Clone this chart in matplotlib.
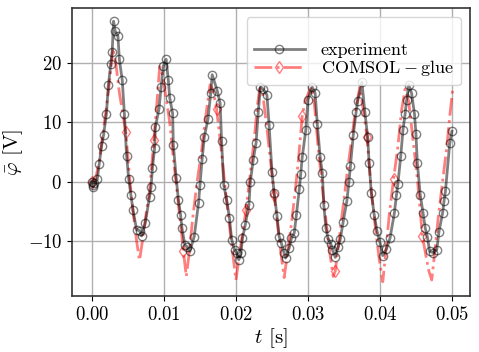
import numpy as np
import matplotlib
matplotlib.use("Agg")
import matplotlib.pyplot as plt

plt.rcParams['font.family'] = 'serif'
plt.rcParams['font.serif'] = ['cmr10']
plt.rcParams['mathtext.fontset'] = 'cm'
plt.rcParams['axes.formatter.use_mathtext'] = True

# experiment
t_exp = [0.0000, 0.0001, 0.0002, 0.0003, 0.00074, 0.0010, 0.00134, 0.0016, 0.0020, 0.00227, 0.0026,
         0.0028, 0.0030, 0.0032, 0.0036, 0.0038, 0.0042, 0.0045, 0.0048, 0.0051, 0.0054, 0.0057,
         0.0062, 0.0066, 0.0069, 0.0074, 0.0080, 0.0082, 0.0084, 0.0087, 0.0088, 0.0093,
         0.0096, 0.0099, 0.0103, 0.0106, 0.0108, 0.0112, 0.0113, 0.0117, 0.0120, 0.0123,
         0.0125, 0.0129, 0.0132, 0.0136, 0.0142, 0.0148, 0.0150, 0.0153, 0.0156, 0.0161,
         0.0165, 0.0167, 0.0174, 0.0178, 0.0180, 0.0183, 0.0187, 0.0191, 0.0194, 0.0198,
         0.0201, 0.0204, 0.0207, 0.0209, 0.0213, 0.0218, 0.0220, 0.0224, 0.0228, 0.0231,
         0.0234, 0.0238, 0.0243, 0.0246, 0.0250, 0.0253, 0.0257, 0.0260, 0.0263, 0.0267,
         0.0269, 0.0274, 0.0277, 0.0281, 0.0284, 0.0288, 0.0290, 0.0292, 0.0297, 0.0300,
         0.0306, 0.0310, 0.0313, 0.0317, 0.0320, 0.0322, 0.0325, 0.0328, 0.0332, 0.0334,
         0.0338, 0.0342, 0.0345, 0.0349, 0.0354, 0.0357, 0.0359, 0.0363, 0.0367, 0.0369,
         0.0375, 0.0379, 0.0383, 0.0385, 0.0388, 0.0392, 0.0396, 0.0400, 0.0404, 0.0409,
         0.0414, 0.0420, 0.0423, 0.0425, 0.0429, 0.0432, 0.0435, 0.0437, 0.0440, 0.0444,
         0.0448, 0.0450, 0.0452, 0.0456, 0.0460, 0.0463, 0.0466, 0.0469, 0.0474, 0.0479,
         0.0482, 0.0487, 0.0489, 0.0491, 0.0497, 0.0500]
v_exp = [0.0, -0.5, -0.8, -0.2, 0.45, 3.0, 6.1, 7.8, 11.4, 16.2, 19.8,
         21.9, 27.0, 25.4, 24.5, 20.6, 17.1, 11.4, 4.4, 0.45, -2.2, -4.8,
         -8.1, -8.2, -9.1, -6.9, -2.5, -0.9, 2.3, 5.7, 9.2, 12.2,
         15.9, 19.4, 20.6, 17.1, 14.1, 11.5, 6.2, 0.6, -3.0, -5.5,
         -7.8, -10.6, -10.9, -11.7, -9.2, -3.6, -0.5, 3.8, 7.5, 10.5,
         14.9, 18.0, 15.3, 13.2, 6.9, -0.5, -3.0, -6.1, -9.7, -11.4,
         -12.0, -13.1, -12.0, -9.5, -7.2, -3.9, 0.05, 3.7, 6.6, 11.8,
         15.9, 15.6, 14.6, 9.6, 1.7, -1.8, -5.7, -9.2, -10.3, -12.0,
         -12.8, -11.1, -9.5, -8.6, -5.5, -1.2, 1.3, 4.1, 8.7, 13.8,
         15.9, 14.9, 9.7, 4.1, 1.5, -3.9, -7.8, -9.6, -10.5, -11.4,
         -12.7, -10.9, -9.6, -6.7, -3.3, 0.05, 2.6, 7.9, 11.8, 13.5,
         16.7, 11.8, 7.5, 3.1, -1.8, -5.5, -8.3, -10.2, -12.4, -11.3,
         -9.5, -5.3, -2.2, -0.3, 4.4, 8.7, 11.4, 13.7, 16.3, 14.9,
         11.4, 8.1, 3.1, -2.2, -5.3, -7.8, -9.3, -11.7, -11.9, -11.4,
         -8.4, -5.3, -3.3, -1.6, 6.5, 8.5]

# COMSOL - glue
t_sim = [0.0000, 0.0005, 0.0010, 0.0015, 0.0020, 0.0025, 0.0029, 0.0033, 0.0038, 0.0042, 0.0047,
         0.0052, 0.0057, 0.0062, 0.0066, 0.0070, 0.0075, 0.0080, 0.0086, 0.0090, 0.0094,
         0.0098, 0.0103, 0.0108, 0.0113, 0.0118, 0.0123, 0.0127, 0.0131, 0.0135, 0.0140,
         0.0146, 0.0152, 0.0158, 0.0164, 0.0168, 0.0173, 0.0179, 0.0185, 0.0191, 0.0196,
         0.0200, 0.0205, 0.0214, 0.0220, 0.0226, 0.0230, 0.0233, 0.0237, 0.0243, 0.0248,
         0.0253, 0.0258, 0.0263, 0.0267, 0.0271, 0.0276, 0.0282, 0.0287, 0.0292, 0.0296,
         0.0301, 0.0305, 0.0309, 0.0314, 0.0320, 0.0326, 0.0331, 0.0335, 0.0338, 0.0342,
         0.0348, 0.0354, 0.0360, 0.0366, 0.0372, 0.0377, 0.0382, 0.0388, 0.0394, 0.0399,
         0.0404, 0.0408, 0.0413, 0.0419, 0.0425, 0.0430, 0.0435, 0.0440, 0.0446, 0.0452,
         0.0459, 0.0464, 0.0468, 0.0472, 0.0476, 0.0481, 0.0487, 0.0493, 0.0497, 0.0501]
v_sim = [0.0, 0.5, 3.5, 8.0, 12.5, 17.5, 22.5, 20.0, 15.0, 12.0, 8.3,
         1.0, -5.0, -10.0, -13.2, -10.0, -5.5, -1.5, 7.1, 13.0, 19.4,
         18.0, 14.0, 10.0, 4.0, -1.5, -7.0, -11.7, -15.9, -12.0, -6.0,
         0.0, 5.0, 11.0, 16.3, 15.5, 12.3, 6.0, -1.0, -7.5, -12.5,
         -16.5, -12.0, -4.7, 1.5, 8.0, 13.0, 15.7, 15.0, 9.0, 3.5,
         -2.2, -7.5, -12.5, -16.1, -12.5, -8.0, -2.0, 4.0, 11.0, 13.5,
         15.0, 15.9, 13.0, 6.0, -1.0, -7.5, -12.5, -15.9, -15.0, -11.0,
         -5.0, 1.0, 6.5, 12.0, 15.9, 12.0, 7.6, -1.5, -8.0, -13.0,
         -16.8, -12.0, -5.5, 0.5, 6.0, 12.0, 15.6, 13.5, 7.0, 0.5,
         -9.1, -12.5, -15.0, -16.5, -12.0, -6.0, 0.0, 6.0, 11.0, 15.5]
sim_marker_t = [0.0000, 0.0047, 0.0086, 0.0127, 0.0173, 0.0214, 0.0253, 0.0292, 0.0338,
                0.0382, 0.0419, 0.0459]

x_ticks = [0.00, 0.01, 0.02, 0.03, 0.04, 0.05]
y_ticks = [-10, 0, 10, 20]

fig = plt.figure(figsize=(4.79, 3.52), dpi=100)
ax = fig.add_axes([0.150, 0.159, 0.831, 0.818])

ts = np.array(t_sim)
mk = [int(np.argmin(np.abs(ts - m))) for m in sim_marker_t]

ax.plot(t_exp, v_exp, color='black', alpha=0.5, lw=2, marker='o', ms=6,
        mfc='none', mec='black', mew=1.0, label='experiment', zorder=3)
ax.plot(t_sim, v_sim, color='red', alpha=0.5, lw=2, ls='-.', marker='d', ms=6,
        mfc='none', mec='red', mew=1.0, markevery=mk,
        label=r'$\mathrm{COMSOL-glue}$', zorder=2)

ax.set_xlim(-0.0028, 0.0525)
ax.set_ylim(-19.2, 29.2)
ax.set_xticks(x_ticks)
ax.set_yticks(y_ticks)
ax.tick_params(labelsize=13.5)
ax.grid(True, color='#b0b0b0', lw=1)
ax.set_axisbelow(True)
for s in ax.spines.values():
    s.set_color('#333333')
    s.set_linewidth(1.2)
ax.set_xlabel(r'$t$ [s]', fontsize=15, labelpad=2)
ax.set_ylabel(r'$\bar{\varphi}$ [V]', fontsize=15, labelpad=2)
ax.legend(loc='upper right', fontsize=13, handlelength=2.8, borderaxespad=0.5,
          labelspacing=0.0, handletextpad=0.9, framealpha=0.8, borderpad=0.4,
          title=' ', title_fontsize=14)

fig.savefig('out.png', dpi=100)
